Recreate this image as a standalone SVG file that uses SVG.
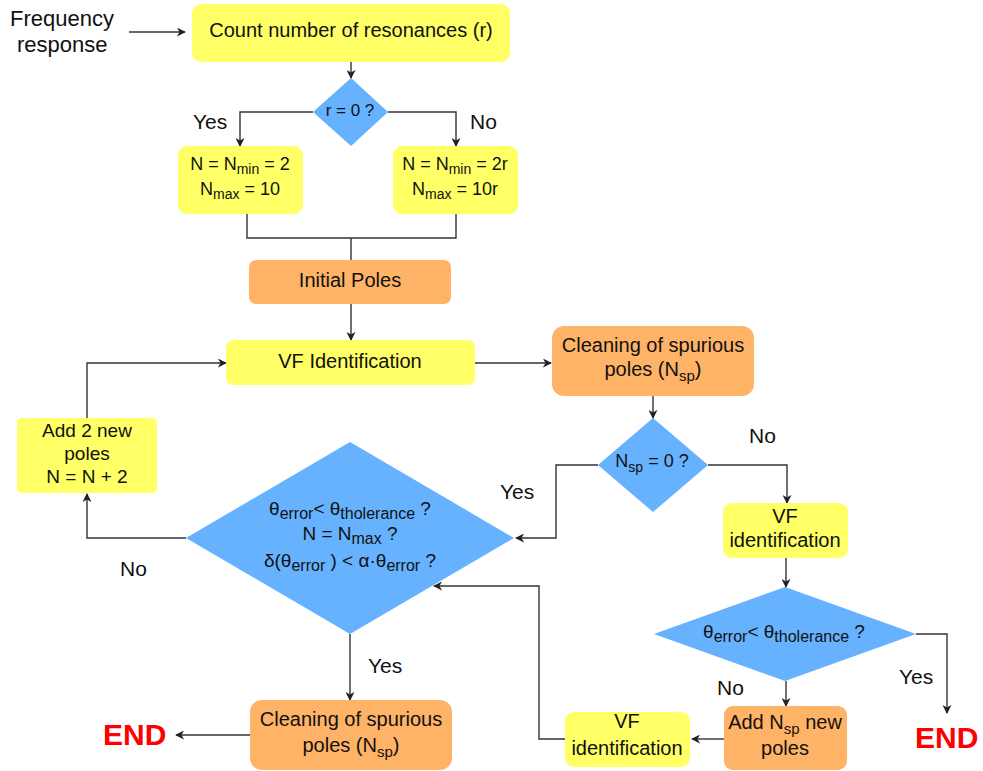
<svg xmlns="http://www.w3.org/2000/svg" width="983" height="771" viewBox="0 0 983 771">
<style>
text{font-family:"Liberation Sans",Arial,sans-serif;fill:#111;}
.t20{font-size:20px;}
.t19{font-size:19px;}
.t18{font-size:18px;}
.t17{font-size:17px;}
.lbl{font-size:21px;}
.end{font-size:30px;font-weight:bold;fill:#ff0000;}
.y{fill:#ffff66;}
.o{fill:#ffb366;}
.b{fill:#66b2ff;}
.c{fill:none;stroke:#333;stroke-width:1.4;marker-end:url(#ah);}
.n{fill:none;stroke:#333;stroke-width:1.4;}
</style>
<defs>
<marker id="ah" viewBox="0 0 10 10" refX="9" refY="5" markerWidth="9" markerHeight="9" markerUnits="userSpaceOnUse" orient="auto">
<path d="M0,0 L10,5 L0,10 L3,5 z" fill="#222"/>
</marker>
</defs>
<rect width="983" height="771" fill="#fff"/>
<g id="connectors">
<path class="c" d="M129,32 H185"/>
<path class="c" d="M351,62 V78"/>
<path class="c" d="M313,112 H240 V146"/>
<path class="c" d="M388,112 H456 V146"/>
<path class="n" d="M247,214 V238 H456 V214"/>
<path class="n" d="M351,238 V260"/>
<path class="c" d="M351,304 V340"/>
<path class="c" d="M475,363 H551"/>
<path class="c" d="M653,396 V418"/>
<path class="c" d="M708,465 H787 V503"/>
<path class="c" d="M598,465 H556 V538 H516"/>
<path class="c" d="M786,558 V587"/>
<path class="c" d="M916,634 H947 V713"/>
<path class="c" d="M786,681 V706"/>
<path class="c" d="M724,739 H692"/>
<path class="c" d="M565,739 H539 V586 H434"/>
<path class="c" d="M186,538 H87 V494"/>
<path class="c" d="M87,418 V363 H226"/>
<path class="c" d="M350,634 V700"/>
<path class="c" d="M250,735 H176"/>
</g>
<g id="freq-response">
<text x="10" y="26" style="font-size:22px">Frequency</text>
<text x="17" y="52" style="font-size:22px">response</text>
</g>
<g id="count">
<rect class="y" x="192" y="4" width="318" height="58" rx="9"/>
<text class="t20" x="351" y="37" text-anchor="middle">Count number of resonances (r)</text>
</g>
<g id="r0">
<polygon class="b" points="351,78 388,112 351,146 313,112"/>
<text class="t17" x="350" y="116" text-anchor="middle">r = 0 ?</text>
</g>
<g id="labels-r0">
<text class="lbl" x="193" y="129">Yes</text>
<text class="lbl" x="470" y="129">No</text>
</g>
<g id="nmin2">
<rect class="y" x="178" y="146" width="125" height="68" rx="9"/>
<text class="t18" x="240" y="170" text-anchor="middle">N = N<tspan dy="4" font-size="14">min</tspan><tspan dy="-4"> = 2</tspan></text>
<text class="t18" x="240" y="195" text-anchor="middle">N<tspan dy="4" font-size="14">max</tspan><tspan dy="-4"> = 10</tspan></text>
</g>
<g id="nmin2r">
<rect class="y" x="393" y="146" width="125" height="68" rx="9"/>
<text class="t18" x="455" y="170" text-anchor="middle">N = N<tspan dy="4" font-size="14">min</tspan><tspan dy="-4"> = 2r</tspan></text>
<text class="t18" x="455" y="195" text-anchor="middle">N<tspan dy="4" font-size="14">max</tspan><tspan dy="-4"> = 10r</tspan></text>
</g>
<g id="initial-poles">
<rect class="o" x="249" y="260" width="202" height="44" rx="7"/>
<text class="t20" x="350" y="287" text-anchor="middle">Initial Poles</text>
</g>
<g id="vf-ident">
<rect class="y" x="226" y="340" width="249" height="45" rx="7"/>
<text class="t20" x="350" y="368" text-anchor="middle">VF Identification</text>
</g>
<g id="cleaning-top">
<rect class="o" x="552" y="326" width="202" height="70" rx="12"/>
<text class="t20" x="653" y="352" text-anchor="middle">Cleaning of spurious</text>
<text class="t20" x="653" y="376" text-anchor="middle">poles (N<tspan dy="5" font-size="15">sp</tspan><tspan dy="-5">)</tspan></text>
</g>
<g id="nsp0">
<polygon class="b" points="653,418 708,465 653,512 598,465"/>
<text class="t18" x="652" y="467" text-anchor="middle">N<tspan dy="5" font-size="14">sp</tspan><tspan dy="-5"> = 0 ?</tspan></text>
</g>
<g id="labels-nsp">
<text class="lbl" x="749" y="443">No</text>
<text class="lbl" x="500" y="499">Yes</text>
</g>
<g id="vf-ident-right">
<rect class="y" x="723" y="503" width="125" height="55" rx="9"/>
<text class="t20" x="785" y="523" text-anchor="middle">VF</text>
<text class="t20" x="785" y="547" text-anchor="middle">identification</text>
</g>
<g id="theta-check">
<polygon class="b" points="785,587 916,634 785,681 654,634"/>
<text class="t19" x="784" y="638" text-anchor="middle">θ<tspan dy="4" font-size="16">error</tspan><tspan dy="-4">&lt; θ</tspan><tspan dy="4" font-size="16">tholerance</tspan><tspan dy="-4"> ?</tspan></text>
</g>
<g id="labels-theta">
<text class="lbl" x="899" y="684">Yes</text>
<text class="lbl" x="717" y="695">No</text>
</g>
<g id="end-right">
<text class="end" x="915" y="748">END</text>
</g>
<g id="add-nsp">
<rect class="o" x="724" y="706" width="123" height="64" rx="9"/>
<text class="t20" x="785" y="729" text-anchor="middle">Add N<tspan dy="5" font-size="15">sp</tspan><tspan dy="-5"> new</tspan></text>
<text class="t20" x="785" y="755" text-anchor="middle">poles</text>
</g>
<g id="vf-ident-small">
<rect class="y" x="565" y="712" width="125" height="55" rx="9"/>
<text class="t20" x="627" y="728" text-anchor="middle">VF</text>
<text class="t20" x="627" y="755" text-anchor="middle">identification</text>
</g>
<g id="big-check">
<polygon class="b" points="350,442 514,538 350,634 186,538"/>
<text class="t19" x="350" y="515" text-anchor="middle">θ<tspan dy="4" font-size="16">error</tspan><tspan dy="-4">&lt; θ</tspan><tspan dy="4" font-size="16">tholerance</tspan><tspan dy="-4"> ?</tspan></text>
<text class="t19" x="350" y="540" text-anchor="middle">N = N<tspan dy="4" font-size="16">max</tspan><tspan dy="-4"> ?</tspan></text>
<text class="t19" x="350" y="567" text-anchor="middle">δ(θ<tspan dy="4" font-size="16">error</tspan><tspan dy="-4"> ) &lt; α·θ</tspan><tspan dy="4" font-size="16">error</tspan><tspan dy="-4"> ?</tspan></text>
</g>
<g id="labels-big">
<text class="lbl" x="120" y="576">No</text>
<text class="lbl" x="368" y="673">Yes</text>
</g>
<g id="add-2">
<rect class="y" x="17" y="418" width="140" height="75" rx="5"/>
<text class="t19" x="87" y="437" text-anchor="middle">Add 2 new</text>
<text class="t19" x="87" y="460" text-anchor="middle">poles</text>
<text class="t19" x="87" y="483" text-anchor="middle">N = N + 2</text>
</g>
<g id="cleaning-bottom">
<rect class="o" x="250" y="700" width="202" height="70" rx="12"/>
<text class="t20" x="351" y="726" text-anchor="middle">Cleaning of spurious</text>
<text class="t20" x="351" y="752" text-anchor="middle">poles (N<tspan dy="5" font-size="15">sp</tspan><tspan dy="-5">)</tspan></text>
</g>
<g id="end-left">
<text class="end" x="103" y="745">END</text>
</g>
</svg>
